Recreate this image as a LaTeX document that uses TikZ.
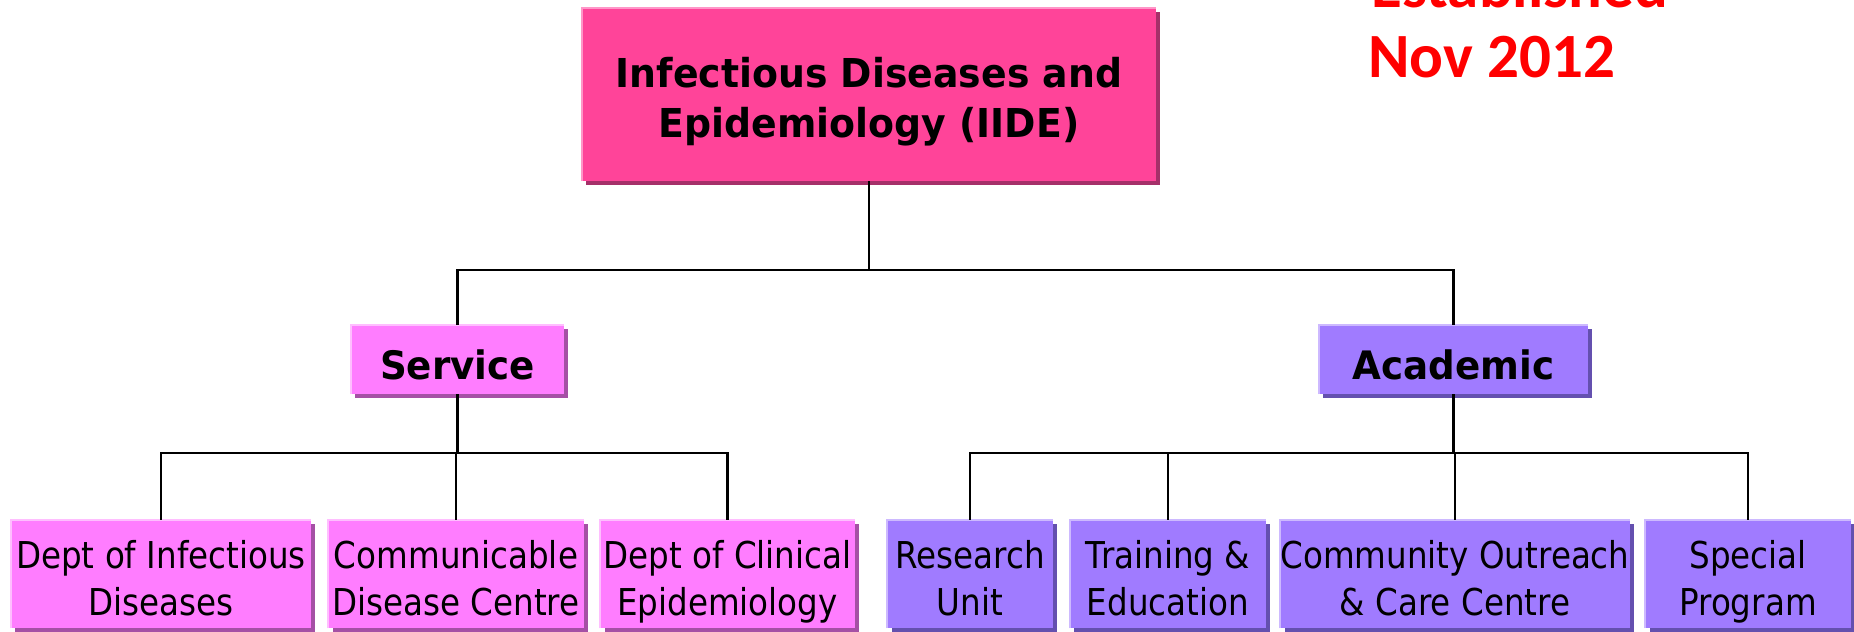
\documentclass[tikz,border=0pt]{standalone}
\usepackage{fontspec}
\usetikzlibrary{shadows}
\newfontfamily\headfont[FakeStretch=0.95]{DejaVu Sans}
\newfontfamily\unitfont[FakeStretch=0.88]{DejaVu Sans}
\newfontfamily\datefont{Carlito}

% struts that fix the first baseline and the last depth of a label
\newcommand\firstline{\rule{0pt}{23.5pt}}
\newcommand\lastline{\rule[-6pt]{0pt}{6pt}}
\newcommand\oneline{\rule[-6pt]{0pt}{31.5pt}}

\definecolor{rosefill}{RGB}{255,68,153}
\definecolor{roseshade}{RGB}{165,48,105}
\definecolor{roselight}{RGB}{255,150,200}
\definecolor{pinkfill}{RGB}{255,125,255}
\definecolor{pinkshade}{RGB}{165,80,165}
\definecolor{pinklight}{RGB}{255,190,255}
\definecolor{violetfill}{RGB}{160,123,255}
\definecolor{violetshade}{RGB}{100,80,175}
\definecolor{violetlight}{RGB}{205,185,255}
\definecolor{datered}{RGB}{255,0,0}

\tikzset{
  orgbox/.style={rectangle, inner sep=0pt, align=center, text=black},
  topbox/.style={orgbox, fill=rosefill,
    drop shadow={shadow xshift=2pt, shadow yshift=-2pt, fill=roseshade, opacity=1},
    font=\headfont\bfseries\fontsize{19.9pt}{25pt}\selectfont},
  midpink/.style={orgbox, fill=pinkfill,
    drop shadow={shadow xshift=2pt, shadow yshift=-2pt, fill=pinkshade, opacity=1},
    font=\headfont\bfseries\fontsize{19.6pt}{24pt}\selectfont},
  midviolet/.style={orgbox, fill=violetfill,
    drop shadow={shadow xshift=2pt, shadow yshift=-2pt, fill=violetshade, opacity=1},
    font=\headfont\bfseries\fontsize{19.6pt}{24pt}\selectfont},
  unitpink/.style={orgbox, fill=pinkfill,
    drop shadow={shadow xshift=2pt, shadow yshift=-2pt, fill=pinkshade, opacity=1},
    font=\unitfont\fontsize{18.5pt}{23.5pt}\selectfont},
  unitviolet/.style={orgbox, fill=violetfill,
    drop shadow={shadow xshift=2pt, shadow yshift=-2pt, fill=violetshade, opacity=1},
    font=\unitfont\fontsize{18.5pt}{23.5pt}\selectfont},
  edgehl/.style={line width=1pt},
  link/.style={draw=black, line width=1.3pt},
  datetext/.style={anchor=base west, inner sep=0pt, text=datered,
    font=\datefont\bfseries\fontsize{31.5pt}{36pt}\selectfont},
}

\begin{document}
\begin{tikzpicture}[x=0.5pt, y=-0.5pt]
  \useasboundingbox (0,0) rectangle (1854,632);
  \clip (0,0) rectangle (1854,632);

  % foundation note
  \node[datetext] (est) at (1371,7) {Established};
  \node[datetext] (nov) at (1368,77) {Nov 2012};

  % head of the organisation
  \node[topbox, minimum width=287pt, minimum height=86.5pt] (iide) at (869,94.5)
    {\firstline Infectious Diseases and\\\lastline Epidemiology (IIDE)};

  % the two branches
  \node[midpink, minimum width=106.5pt, minimum height=34.5pt] (service) at (457.5,359.5) {\oneline Service};
  \node[midviolet, minimum width=134.5pt, minimum height=34.5pt] (academic) at (1453.5,359.5) {\oneline Academic};

  % service units
  \node[unitpink, minimum width=150pt, minimum height=54pt] (dept) at (161,574)
    {\firstline Dept of Infectious\\\lastline Diseases};
  \node[unitpink, minimum width=127.5pt, minimum height=54pt] (cdc) at (456,574)
    {\firstline Communicable\\\lastline Disease Centre};
  \node[unitpink, minimum width=127pt, minimum height=54pt] (clin) at (727.5,574)
    {\firstline Dept of Clinical\\\lastline Epidemiology};

  % academic units
  \node[unitviolet, minimum width=82.5pt, minimum height=54pt] (research) at (970,574)
    {\firstline Research\\\lastline Unit};
  \node[unitviolet, minimum width=98pt, minimum height=54pt] (training) at (1168,574)
    {\firstline Training \&\\\lastline Education};
  \node[unitviolet, minimum width=174.5pt, minimum height=54pt] (coc) at (1455,574)
    {\firstline Community Outreach\\\lastline \& Care Centre};
  \node[unitviolet, minimum width=102.5pt, minimum height=54pt] (special) at (1748,574)
    {\firstline Special\\\lastline Program};

  % light upper and left rims of the boxes
  \draw[edgehl, roselight] (iide.south west) |- (iide.north east);
  \draw[edgehl, pinklight] (service.south west) |- (service.north east);
  \draw[edgehl, violetlight] (academic.south west) |- (academic.north east);
  \foreach \n in {dept,cdc,clin}
    \draw[edgehl, pinklight] (\n.south west) |- (\n.north east);
  \foreach \n in {research,training,coc,special}
    \draw[edgehl, violetlight] (\n.south west) |- (\n.north east);

  % connectors
  \coordinate (topbus) at (869,270);
  \draw[link] (iide.south) -- (topbus);
  \draw[link] (service.north) |- (topbus) -| (academic.north);

  \coordinate (svcbus) at (457.5,453);
  \draw[link] (service.south) -- (svcbus);
  \draw[link] (dept.north) |- (svcbus) -| (clin.north);
  \draw[link] (cdc.north) -- (cdc.north |- svcbus);

  \coordinate (acabus) at (1453.5,453);
  \draw[link] (academic.south) -- (acabus);
  \draw[link] (research.north) |- (acabus) -| (special.north);
  \draw[link] (training.north) -- (training.north |- acabus);
  \draw[link] (coc.north) -- (coc.north |- acabus);
\end{tikzpicture}
\end{document}
